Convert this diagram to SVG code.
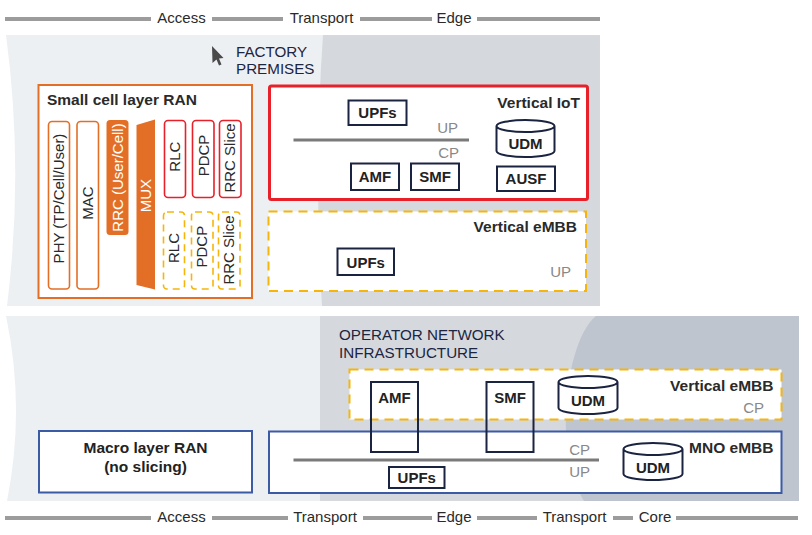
<svg xmlns="http://www.w3.org/2000/svg" width="812" height="535" viewBox="0 0 812 535">
<style>
text{font-family:"Liberation Sans",Arial,sans-serif;}
.bar{fill:#9c9c9c;}
.lbl{font-size:15px;fill:#2a2a2a;text-anchor:middle;}
.zone{font-size:15.2px;fill:#1c2541;}
.title{font-size:15.5px;font-weight:bold;fill:#2a2a2a;}
.nf{fill:#fff;stroke:#1a2340;stroke-width:2;}
.nt{font-size:15px;font-weight:bold;fill:#222;text-anchor:middle;}
.gray{font-size:15px;fill:#888;}
.ob{fill:#fff;stroke:#e36f26;stroke-width:1.6;}
.rb{fill:#fff;stroke:#e8202a;stroke-width:1.6;}
.yb{fill:#fff;stroke:#f5b50a;stroke-width:1.6;stroke-dasharray:7 5;}
.vt{font-size:15px;fill:#2a2a2a;text-anchor:middle;}
.line{stroke:#7a7a7a;stroke-width:3;}
</style>
<rect width="812" height="535" fill="#fff"/>
<g id="top-panel">
<path d="M6,35 L600,35 L600,306 L7,306 Q24,170 6,35 Z" fill="#edf0f3"/>
<path d="M323,35 L600,35 L600,306 L322,306 Q313.5,170 323,35 Z" fill="#d5d9de"/>
</g>
<g id="bottom-panel">
<path d="M6,316 L799,316 L799,501 L7,501 Q25.5,408 6,316 Z" fill="#edf0f3"/>
<rect x="320" y="316" width="479" height="185" fill="#d5d9de"/>
<path d="M596,316 C566,340 552,450 584,501 L799,501 L799,316 Z" fill="#bec5cf"/>
</g>
<g id="top-scale">
<rect class="bar" x="5" y="17" width="146" height="4"/>
<rect class="bar" x="212" y="17" width="71" height="4"/>
<rect class="bar" x="360" y="17" width="72" height="4"/>
<rect class="bar" x="477" y="17" width="123" height="4"/>
<text class="lbl" x="181.5" y="22.5">Access</text>
<text class="lbl" x="321.5" y="22.5">Transport</text>
<text class="lbl" x="454" y="22.5">Edge</text>
</g>
<g id="bottom-scale">
<rect class="bar" x="5" y="516" width="146" height="4"/>
<rect class="bar" x="212" y="516" width="76" height="4"/>
<rect class="bar" x="363" y="516" width="69" height="4"/>
<rect class="bar" x="477" y="516" width="60" height="4"/>
<rect class="bar" x="613" y="516" width="20" height="4"/>
<rect class="bar" x="676" y="516" width="122" height="4"/>
<text class="lbl" x="181.5" y="521.5">Access</text>
<text class="lbl" x="325" y="521.5">Transport</text>
<text class="lbl" x="454" y="521.5">Edge</text>
<text class="lbl" x="574.5" y="521.5">Transport</text>
<text class="lbl" x="655" y="521.5">Core</text>
</g>
<g id="factory-label">
<polygon points="212,46 212.5,63 216.5,59.5 219,65.5 221.5,64.5 219,58.5 223.5,58" fill="#4a4a4a"/>
<text class="zone" x="236" y="57">FACTORY</text>
<text class="zone" x="236" y="74">PREMISES</text>
</g>
<g id="operator-label">
<text class="zone" x="339" y="339.5">OPERATOR NETWORK</text>
<text class="zone" x="339" y="357.5">INFRASTRUCTURE</text>
</g>
<g id="small-cell-ran">
<rect x="38.5" y="85" width="213.5" height="213" fill="#fff" stroke="#e36f26" stroke-width="2"/>
<text class="title" x="47" y="105">Small cell layer RAN</text>
<rect class="ob" x="48.5" y="121.5" width="21" height="167.5" rx="3.5"/>
<text class="vt" transform="translate(64.2,198.5) rotate(-90)">PHY (TP/Cell/User)</text>
<rect class="ob" x="77" y="121.5" width="21.5" height="167.5" rx="3.5"/>
<text class="vt" transform="translate(92.9,203) rotate(-90)">MAC</text>
<rect x="106.5" y="120" width="22" height="115" rx="3.5" fill="#e36f26"/>
<text class="vt" style="fill:#fff" transform="translate(123,177.5) rotate(-90)">RRC (User/Cell)</text>
<polygon points="136.5,125 155,119.5 155,289.5 136.5,285" fill="#e36f26"/>
<text class="vt" style="fill:#fff" transform="translate(151.3,195.6) rotate(-90)">MUX</text>
<rect class="rb" x="164.5" y="120.5" width="21" height="77" rx="3.5"/>
<text class="vt" transform="translate(180.3,156.7) rotate(-90)">RLC</text>
<rect class="rb" x="192.5" y="120.5" width="21.5" height="77" rx="3.5"/>
<text class="vt" transform="translate(208.7,155.5) rotate(-90)">PDCP</text>
<rect class="rb" x="219.5" y="120.5" width="21.5" height="77" rx="3.5"/>
<text class="vt" transform="translate(235.4,158) rotate(-90)">RRC Slice</text>
<rect class="yb" x="163.5" y="212" width="21" height="77" rx="3.5"/>
<text class="vt" transform="translate(179.4,248) rotate(-90)">RLC</text>
<rect class="yb" x="191.5" y="212" width="21.5" height="77" rx="3.5"/>
<text class="vt" transform="translate(207.4,246.7) rotate(-90)">PDCP</text>
<rect class="yb" x="218.5" y="212" width="21.5" height="77" rx="3.5"/>
<text class="vt" transform="translate(234.4,250) rotate(-90)">RRC Slice</text>
</g>
<g id="vertical-iot">
<rect x="269.5" y="86" width="318" height="113.5" rx="2" fill="#fff" stroke="#e8202a" stroke-width="3"/>
<text class="title" x="580" y="108" text-anchor="end">Vertical IoT</text>
<text class="gray" x="458" y="132.5" text-anchor="end">UP</text>
<text class="gray" x="459" y="157.5" text-anchor="end">CP</text>
</g>
<g id="iot-upfs"><rect class="nf" x="348.5" y="100.5" width="58" height="24.5"/><text class="nt" x="377.5" y="118">UPFs</text></g>
<g id="iot-amf"><rect class="nf" x="351" y="163.5" width="48" height="26.5"/><text class="nt" x="375" y="182">AMF</text></g>
<g id="iot-smf"><rect class="nf" x="411" y="163.5" width="48" height="26.5"/><text class="nt" x="435" y="182">SMF</text></g>
<g id="iot-udm"><path class="nf" d="M496.5,126 A29,6 0 0 1 554.5,126 L554.5,151 A29,6 0 0 1 496.5,151 Z M496.5,126 A29,6 0 0 0 554.5,126"/><text class="nt" x="525.5" y="149">UDM</text></g>
<g id="iot-ausf"><rect class="nf" x="497" y="166.5" width="58" height="24.5"/><text class="nt" x="526" y="184">AUSF</text></g>
<g id="vertical-embb-edge">
<rect x="268.5" y="211.5" width="317.5" height="79.5" fill="#fff" stroke="#f5b50a" stroke-width="2" stroke-dasharray="9 6"/>
<text class="title" x="577" y="232" text-anchor="end">Vertical eMBB</text>
<text class="gray" x="571" y="277" text-anchor="end">UP</text>
</g>
<g id="embb-upfs"><rect class="nf" x="337.5" y="248.5" width="56.5" height="26.5"/><text class="nt" x="365.75" y="267.5">UPFs</text></g>
<g id="macro-ran">
<rect x="39" y="431" width="213" height="61.5" fill="#fff" stroke="#3b5ba5" stroke-width="2"/>
<text class="nt" x="145.5" y="452.5" style="font-size:15.5px">Macro layer RAN</text>
<text class="nt" x="145.5" y="471.5" style="font-size:15.5px">(no slicing)</text>
</g>
<g id="vertical-embb-core">
<rect x="349.5" y="369.5" width="432" height="50" fill="#fff" stroke="#f5b50a" stroke-width="2" stroke-dasharray="9 6"/>
<text class="title" x="773.5" y="391" text-anchor="end">Vertical eMBB</text>
<text class="gray" x="764" y="412.5" text-anchor="end">CP</text>
</g>
<g id="mno-embb">
<rect x="269" y="431.5" width="512.5" height="61.5" fill="#fff" stroke="#3b5ba5" stroke-width="2"/>
<text class="title" x="773.5" y="453" text-anchor="end">MNO eMBB</text>
<text class="gray" x="590" y="455" text-anchor="end">CP</text>
<text class="gray" x="590" y="477" text-anchor="end">UP</text>
</g>
<g id="connectors">
<line class="line" x1="293.5" y1="140" x2="469" y2="140"/>
<line class="line" x1="293.5" y1="460" x2="599" y2="460"/>
</g>
<g id="core-amf"><rect x="371" y="382" width="47" height="70" fill="none" stroke="#1a2340" stroke-width="2"/><text class="nt" x="394.5" y="403">AMF</text></g>
<g id="core-smf"><rect x="486.5" y="382" width="47" height="70" fill="none" stroke="#1a2340" stroke-width="2"/><text class="nt" x="510" y="403">SMF</text></g>
<g id="core-udm"><path class="nf" d="M558.5,382 A29.5,6 0 0 1 617.5,382 L617.5,408 A29.5,6 0 0 1 558.5,408 Z M558.5,382 A29.5,6 0 0 0 617.5,382"/><text class="nt" x="588" y="406">UDM</text></g>
<g id="mno-udm"><path class="nf" d="M623.5,449 A29.5,6 0 0 1 682.5,449 L682.5,474 A29.5,6 0 0 1 623.5,474 Z M623.5,449 A29.5,6 0 0 0 682.5,449"/><text class="nt" x="653" y="472.5">UDM</text></g>
<g id="mno-upfs"><rect class="nf" x="389" y="467" width="55.5" height="21"/><text class="nt" x="416.75" y="483">UPFs</text></g>
</svg>
